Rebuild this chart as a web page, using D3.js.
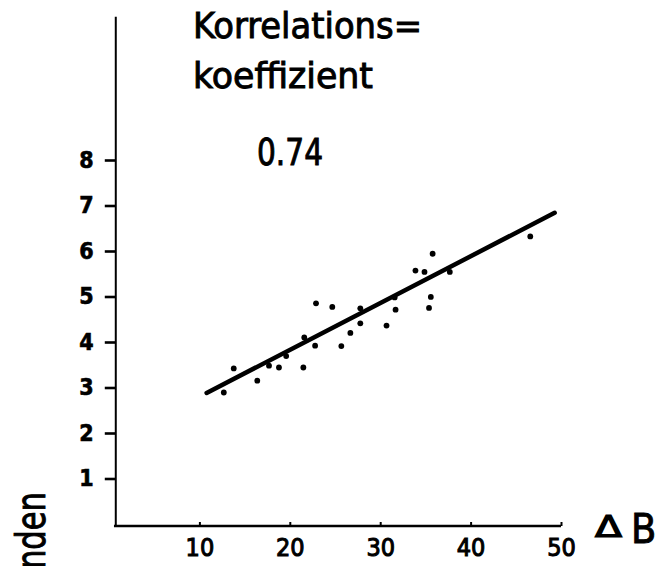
<!DOCTYPE html>
<html><head><meta charset="utf-8">
<script src="https://cdn.jsdelivr.net/npm/d3@7"></script>
<style>
html,body{margin:0;padding:0;background:#fff;}
svg{display:block;}
.cond{font-family:'DejaVu Sans Condensed','DejaVu Sans',sans-serif;font-stretch:condensed;}
</style></head>
<body>
<svg id="c" width="657" height="566"></svg>
<script>
// Data
const xVals = [12.7,13.8,16.4,17.7,18.8,19.6,21.5,21.6,22.9,22.8,24.7,25.7,26.7,27.8,27.8,30.7,31.6,31.7,33.9,34.9,35.8,35.6,35.4,37.7,46.6];
const yVals = [2.89,3.42,3.15,3.48,3.44,3.69,3.44,4.10,4.85,3.92,4.77,3.91,4.20,4.41,4.74,4.36,4.98,4.71,5.57,5.54,5.94,4.99,4.75,5.54,6.32];
const fitX = [10.8, 49.3];
const fitY = [2.88, 6.84];
const xTicks = [10,20,30,40,50];
const yTicks = [1,2,3,4,5,6,7,8];
const titleLines = ["Korrelations=", "koeffizient"];
const coefLabel = "0.74";
const xLabelA = "\u0394", xLabelB = "B";
const yLabel = "Stunden";

const svg = d3.select("#c");
const x = d3.scaleLinear().domain([0,50]).range([109,561]);
const y = d3.scaleLinear().domain([0,8]).range([524,160]);

// Y axis
const yAx = svg.append("g").attr("transform",`translate(${x(0.75)},0)`)
  .call(d3.axisLeft(y).tickValues(yTicks).tickSize(11).tickPadding(11).tickFormat(d3.format("d")));
yAx.select(".domain").remove();
yAx.selectAll(".tick line").attr("stroke","#000").attr("stroke-width",2.6);
yAx.selectAll(".tick text").attr("class","cond").attr("font-size",23).attr("font-weight","bold")
  .attr("fill","#000").attr("stroke","#000").attr("stroke-width",0.6);
yAx.append("line").attr("x1",0).attr("x2",0).attr("y1",y(-0.05)).attr("y2",y(11.15))
  .attr("stroke","#000").attr("stroke-width",2);

// X axis
const xAx = svg.append("g").attr("transform",`translate(0,${y(0)+2})`)
  .call(d3.axisBottom(x).tickValues(xTicks).tickSize(-4).tickPadding(12).tickFormat(d3.format("d")));
xAx.select(".domain").remove();
xAx.selectAll(".tick line").attr("stroke","#000").attr("stroke-width",2);
xAx.selectAll(".tick text").attr("class","cond").attr("font-size",25).attr("fill","#000")
  .attr("stroke","#000").attr("stroke-width",1);
xAx.append("line").attr("x1",x(0.55)).attr("x2",x(50)).attr("y1",0).attr("y2",0)
  .attr("stroke","#000").attr("stroke-width",2.6);

// regression line
svg.append("line")
  .attr("x1",x(fitX[0])).attr("y1",y(fitY[0]))
  .attr("x2",x(fitX[1])).attr("y2",y(fitY[1]))
  .attr("stroke","#000").attr("stroke-width",4.5).attr("stroke-linecap","round");

// points
svg.append("g").selectAll("circle").data(xVals.map((v,i)=>[v,yVals[i]])).join("circle")
  .attr("cx",d=>x(d[0])).attr("cy",d=>y(d[1])).attr("r",2.9).attr("fill","#000");

// title
const tStyle = s => s.attr("class","cond").attr("fill","#000").attr("stroke","#000").attr("stroke-width",0.9);
svg.append("text").call(tStyle).attr("x",193).attr("y",38).attr("font-size",36)
  .attr("textLength",229).attr("lengthAdjust","spacingAndGlyphs").text(titleLines[0]);
svg.append("text").call(tStyle).attr("x",193).attr("y",88).attr("font-size",36)
  .attr("textLength",180).attr("lengthAdjust","spacingAndGlyphs").text(titleLines[1]);
svg.append("text").call(tStyle).attr("x",257).attr("y",165).attr("font-size",38)
  .attr("textLength",66).attr("lengthAdjust","spacingAndGlyphs").text(coefLabel);

// x label
svg.append("text").attr("class","cond").attr("x",595).attr("y",537).attr("font-size",30)
  .attr("fill","#000").attr("stroke","#000").attr("stroke-width",1.2)
  .attr("textLength",27).attr("lengthAdjust","spacingAndGlyphs").text(xLabelA);
svg.append("text").call(tStyle).attr("x",631).attr("y",543).attr("font-size",41).text(xLabelB);

// y label (rotated, mostly outside the view as in the reference)
svg.append("text").call(tStyle).attr("font-size",40).attr("text-anchor","end")
  .attr("transform","translate(45,492) rotate(-90) scale(0.85,1)").text(yLabel);
</script>
</body></html>
